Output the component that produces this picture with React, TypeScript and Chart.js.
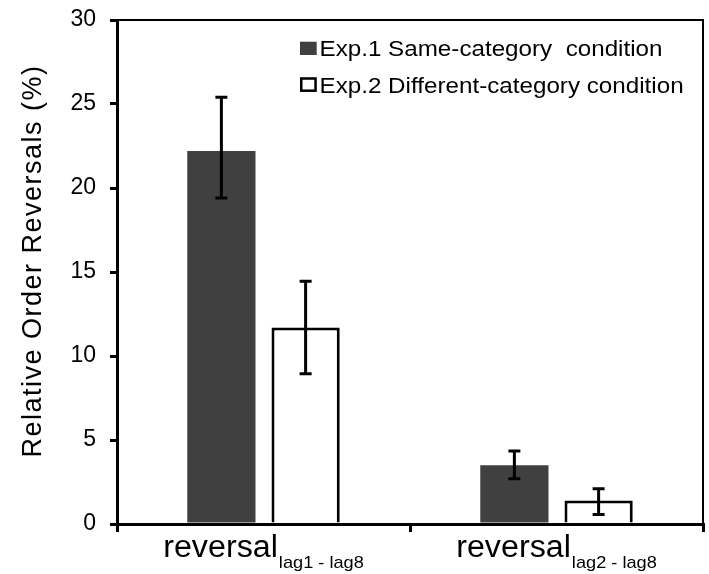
import React, { useEffect, useRef } from 'react';
import { Chart, registerables } from 'chart.js';

Chart.register(...registerables);

// ---- data ----
const categoryMain = ['reversal', 'reversal'];
const categorySub = ['lag1 - lag8', 'lag2 - lag8'];
const seriesNames = ['Exp.1 Same-category  condition', 'Exp.2 Different-category condition'];
const exp1Values = [22.2, 3.5];
const exp2Values = [11.7, 1.4];
const exp1ErrLow = [19.4, 2.7];
const exp1ErrHigh = [25.4, 4.35];
const exp2ErrLow = [8.95, 0.57];
const exp2ErrHigh = [14.45, 2.1];
const yMin = 0;
const yMax = 30;
const yStep = 5;
const yTitle = 'Relative Order Reversals (%)';

const FONT = '"Liberation Sans", Arial, Helvetica, sans-serif';
const DARK = '#404040';

Chart.defaults.font.family = FONT;

function drawStretched(ctx: CanvasRenderingContext2D, text: string, x: number, y: number, sx: number) {
  ctx.save();
  ctx.translate(x, y);
  ctx.scale(sx, 1);
  ctx.fillText(text, 0, 0);
  ctx.restore();
}

const customPlugin = {
  id: 'customDecor',
  afterDatasetsDraw(chart: any) {
    const ctx: CanvasRenderingContext2D = chart.ctx;
    const ys = chart.scales.y;
    const lows = [exp1ErrLow, exp2ErrLow];
    const highs = [exp1ErrHigh, exp2ErrHigh];
    ctx.save();
    ctx.strokeStyle = '#000';
    ctx.lineWidth = 3;
    for (let d = 0; d < 2; d++) {
      const meta = chart.getDatasetMeta(d);
      meta.data.forEach((bar: any, i: number) => {
        const x = bar.x;
        const yTop = ys.getPixelForValue(highs[d][i]);
        const yBot = ys.getPixelForValue(lows[d][i]);
        ctx.beginPath();
        ctx.moveTo(x, yTop);
        ctx.lineTo(x, yBot);
        ctx.moveTo(x - 6, yTop);
        ctx.lineTo(x + 6, yTop);
        ctx.moveTo(x - 6, yBot);
        ctx.lineTo(x + 6, yBot);
        ctx.stroke();
      });
    }
    ctx.restore();
  },
  afterDraw(chart: any) {
    const ctx: CanvasRenderingContext2D = chart.ctx;
    const ca = chart.chartArea;
    // frame (top + right)
    ctx.save();
    ctx.strokeStyle = '#000';
    ctx.lineWidth = 2;
    ctx.beginPath();
    ctx.moveTo(ca.left, ca.top);
    ctx.lineTo(ca.right, ca.top);
    ctx.lineTo(ca.right, ca.bottom);
    ctx.stroke();
    ctx.restore();

    // y title
    ctx.save();
    ctx.fillStyle = '#000';
    ctx.font = `27px ${FONT}`;
    (ctx as any).letterSpacing = '1.5px';
    ctx.textAlign = 'center';
    ctx.textBaseline = 'alphabetic';
    ctx.translate(41, 261);
    ctx.rotate(-Math.PI / 2);
    ctx.fillText(yTitle, 0, 0);
    ctx.restore();

    // x labels with subscripts
    const xs = chart.scales.x;
    ctx.save();
    ctx.fillStyle = '#000';
    ctx.textAlign = 'left';
    ctx.textBaseline = 'alphabetic';
    const mainFont = `31px ${FONT}`;
    const subFont = `17px ${FONT}`;
    const sxMain = 1.04;
    const sxSub = 1.07;
    const gap = 1;
    categoryMain.forEach((m, i) => {
      const cx = xs.getPixelForValue(i);
      ctx.font = mainFont;
      const w1 = ctx.measureText(m).width * sxMain;
      ctx.font = subFont;
      const w2 = ctx.measureText(categorySub[i]).width * sxSub;
      const start = cx - (w1 + gap + w2) / 2;
      ctx.font = mainFont;
      drawStretched(ctx, m, start, 557, sxMain);
      ctx.font = subFont;
      drawStretched(ctx, categorySub[i], start + w1 + gap, 568, sxSub);
    });
    ctx.restore();

    // legend
    ctx.save();
    ctx.font = `22px ${FONT}`;
    ctx.textAlign = 'left';
    ctx.textBaseline = 'alphabetic';
    ctx.fillStyle = DARK;
    ctx.fillRect(300, 41.7, 16.7, 13.3);
    ctx.strokeStyle = '#000';
    ctx.lineWidth = 2.5;
    ctx.strokeRect(301.25, 78.5, 14.3, 12.2);
    ctx.fillStyle = '#000';
    drawStretched(ctx, seriesNames[0], 319.5, 55.7, 1.1);
    drawStretched(ctx, seriesNames[1], 319.5, 92.7, 1.1);
    ctx.restore();
  },
};

export default function App() {
  const ref = useRef<HTMLCanvasElement>(null);
  useEffect(() => {
    const chart = new Chart(ref.current as HTMLCanvasElement, {
      type: 'bar',
      data: {
        labels: categorySub,
        datasets: [
          {
            label: seriesNames[0],
            data: exp1Values,
            backgroundColor: DARK,
            borderWidth: 0,
            categoryPercentage: 0.575,
            barPercentage: 0.81,
          },
          {
            label: seriesNames[1],
            data: exp2Values,
            backgroundColor: '#ffffff',
            borderColor: '#000000',
            borderWidth: 3,
            categoryPercentage: 0.575,
            barPercentage: 0.81,
          },
        ],
      },
      options: {
        responsive: false,
        animation: false,
        devicePixelRatio: 1,
        layout: { padding: { left: 0, right: 6, top: 20, bottom: 0 } },
        plugins: { legend: { display: false }, tooltip: { enabled: false } },
        scales: {
          x: {
            type: 'category',
            offset: true,
            grid: {
              display: true,
              offset: true,
              drawOnChartArea: false,
              drawTicks: true,
              tickLength: 8,
              lineWidth: 3,
              color: '#000',
            },
            border: { display: true, width: 3, color: '#000' },
            ticks: { display: false },
            afterFit: (s: any) => {
              s.height = 50;
              s.paddingLeft = 0;
              s.paddingRight = 0;
            },
          },
          y: {
            min: yMin,
            max: yMax,
            ticks: {
              stepSize: yStep,
              font: { family: FONT, size: 23 },
              color: '#000',
              padding: 14,
            },
            grid: {
              display: true,
              drawOnChartArea: false,
              drawTicks: true,
              tickLength: 7,
              lineWidth: 3,
              color: '#000',
            },
            border: { display: true, width: 3, color: '#000' },
            afterFit: (s: any) => {
              s.width = 117;
              s.paddingTop = 0;
              s.paddingBottom = 0;
            },
          },
        },
      },
      plugins: [customPlugin],
    } as any);
    return () => chart.destroy();
  }, []);
  return (
    <div style={{ position: 'fixed', left: 0, top: 0, width: 709, height: 574, background: '#fff' }}>
      <canvas ref={ref} width={709} height={574} style={{ display: 'block', width: 709, height: 574 }} />
    </div>
  );
}
